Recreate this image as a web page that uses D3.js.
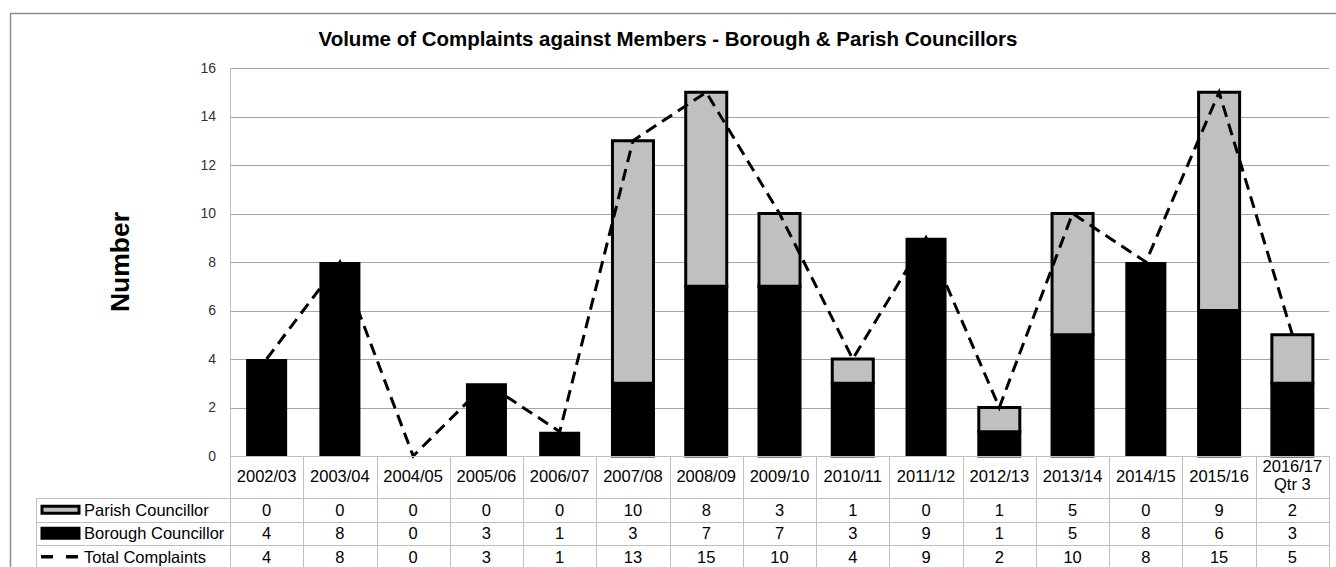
<!DOCTYPE html>
<html>
<head>
<meta charset="utf-8">
<script src="https://cdn.jsdelivr.net/npm/d3@7"></script>
<style>
  html, body { margin: 0; padding: 0; background: #fff; }
  svg { display: block; font-family: "Liberation Sans", Arial, sans-serif; }
</style>
</head>
<body>
<svg id="chart" width="1336" height="567"></svg>
<script>
const categories = ["2002/03","2003/04","2004/05","2005/06","2006/07","2007/08","2008/09","2009/10","2010/11","2011/12","2012/13","2013/14","2014/15","2015/16","2016/17\nQtr 3"];
const parish   = [0,0,0,0,0,10,8,3,1,0,1,5,0,9,2];
const borough  = [4,8,0,3,1,3,7,7,3,9,1,5,8,6,3];
const total    = [4,8,0,3,1,13,15,10,4,9,2,10,8,15,5];
const yTicks   = [0,2,4,6,8,10,12,14,16];
const seriesNames = ["Parish Councillor","Borough Councillor","Total Complaints"];
const title = "Volume of Complaints against Members - Borough & Parish Councillors";
const yLabel = "Number";

const svg = d3.select("#chart");
const W = 1336, H = 567;
const plot = {left: 230, right: 1329, top: 68, bottom: 456};
const tableLeft = 36.5;
const headerBottom = 498;
const rowH = 23.5;
const fs = 16.5;

// outer border
svg.append("rect").attr("x", 10.5).attr("y", 13.5).attr("width", W).attr("height", H)
  .attr("fill", "none").attr("stroke", "#8c8c8c").attr("stroke-width", 1.5);

const x = d3.scaleBand().domain(categories).range([plot.left, plot.right]).padding(0);
const y = d3.scaleLinear().domain([0, 16]).range([plot.bottom, plot.top]);
const barW = x.bandwidth() * 0.56;

// gridlines
svg.append("g").selectAll("line").data(yTicks).join("line")
  .attr("x1", plot.left).attr("x2", plot.right)
  .attr("y1", d => Math.round(y(d)) + 0.5).attr("y2", d => Math.round(y(d)) + 0.5)
  .attr("stroke", "#a6a6a6").attr("stroke-width", 1);
// left axis line
svg.append("line").attr("x1", plot.left + 0.5).attr("x2", plot.left + 0.5)
  .attr("y1", plot.top).attr("y2", plot.bottom).attr("stroke", "#bfbfbf");

// y tick labels
const yAxis = d3.axisLeft(y).tickValues(yTicks).tickSize(0).tickPadding(14);
const ya = svg.append("g").attr("transform", `translate(${plot.left},0)`).call(yAxis);
ya.select(".domain").remove();
ya.selectAll("text").attr("font-size", 14).attr("fill", "#333")
  .attr("font-family", "'Liberation Sans', Arial, sans-serif");

// bars
const bars = svg.append("g");
categories.forEach((c, i) => {
  const bx = x(c) + (x.bandwidth() - barW) / 2;
  const hasP = parish[i] > 0;
  if (borough[i] > 0) {
    bars.append("rect").attr("x", bx).attr("width", barW)
      .attr("y", y(borough[i])).attr("height", y(0) - y(borough[i]))
      .attr("fill", "#000")
      .attr("stroke", hasP ? "#000" : "none").attr("stroke-width", 3);
  }
  if (hasP) {
    bars.append("rect").attr("x", bx).attr("width", barW)
      .attr("y", y(total[i])).attr("height", y(borough[i]) - y(total[i]))
      .attr("fill", "#c0c0c0").attr("stroke", "#000").attr("stroke-width", 3);
  }
});

// total line
const line = d3.line().x((d, i) => x(categories[i]) + x.bandwidth() / 2).y(d => y(d));
svg.append("path").datum(total).attr("d", line).attr("fill", "none")
  .attr("stroke", "#000").attr("stroke-width", 3).attr("stroke-dasharray", "12,7");

// title
svg.append("text").attr("x", 668).attr("y", 46).attr("text-anchor", "middle")
  .attr("font-size", 20.5).attr("font-weight", "bold").attr("fill", "#000").text(title);

// y label
svg.append("text").attr("transform", "translate(129,262) rotate(-90)")
  .attr("text-anchor", "middle").attr("font-size", 26.5).attr("font-weight", "bold")
  .attr("fill", "#000").text(yLabel);

// data table
const tbl = svg.append("g");
const gridCol = "#bfbfbf";
const tableBottom = headerBottom + rowH * 3 + 2;
categories.forEach((c, i) => {
  tbl.append("line").attr("x1", Math.round(x(c)) + 0.5).attr("x2", Math.round(x(c)) + 0.5)
    .attr("y1", plot.bottom).attr("y2", tableBottom).attr("stroke", gridCol);
});
tbl.append("line").attr("x1", plot.right + 0.5).attr("x2", plot.right + 0.5)
  .attr("y1", plot.bottom).attr("y2", tableBottom).attr("stroke", gridCol);
tbl.append("line").attr("x1", tableLeft).attr("x2", tableLeft)
  .attr("y1", headerBottom).attr("y2", tableBottom).attr("stroke", gridCol);
tbl.append("line").attr("x1", plot.left).attr("x2", plot.right)
  .attr("y1", plot.bottom + 0.5).attr("y2", plot.bottom + 0.5).attr("stroke", gridCol);
[0, 1, 2].forEach(r => {
  const yy = Math.round(headerBottom + r * rowH) + 0.5;
  tbl.append("line").attr("x1", tableLeft).attr("x2", plot.right)
    .attr("y1", yy).attr("y2", yy).attr("stroke", gridCol);
});

// header labels
categories.forEach(c => {
  const lines = c.split("\n");
  const cx = x(c) + x.bandwidth() / 2;
  const t = tbl.append("text").attr("x", cx).attr("text-anchor", "middle")
    .attr("font-size", fs).attr("fill", "#000");
  if (lines.length === 1) {
    t.attr("y", 482).text(c);
  } else {
    lines.forEach((l, k) => t.append("tspan").attr("x", cx).attr("y", 472 + k * 18).text(l));
  }
});

// rows
const rows = [parish, borough, total];
rows.forEach((vals, r) => {
  const cy = headerBottom + r * rowH + rowH / 2 + 6;
  vals.forEach((v, i) => {
    tbl.append("text").attr("x", x(categories[i]) + x.bandwidth() / 2).attr("y", cy)
      .attr("text-anchor", "middle").attr("font-size", fs).attr("fill", "#000").text(v);
  });
  tbl.append("text").attr("x", 84).attr("y", cy).attr("font-size", fs)
    .attr("fill", "#000").text(seriesNames[r]);
});
// legend keys
const k0 = headerBottom + rowH / 2;
tbl.append("rect").attr("x", 42).attr("y", k0 - 3.5).attr("width", 37).attr("height", 7)
  .attr("fill", "#c0c0c0").attr("stroke", "#000").attr("stroke-width", 3);
tbl.append("rect").attr("x", 40.5).attr("y", k0 + rowH - 6.5).attr("width", 40).attr("height", 13)
  .attr("fill", "#000");
tbl.append("line").attr("x1", 41).attr("x2", 81).attr("y1", k0 + 2 * rowH).attr("y2", k0 + 2 * rowH)
  .attr("stroke", "#000").attr("stroke-width", 3.5).attr("stroke-dasharray", "12,13");
</script>
</body>
</html>
